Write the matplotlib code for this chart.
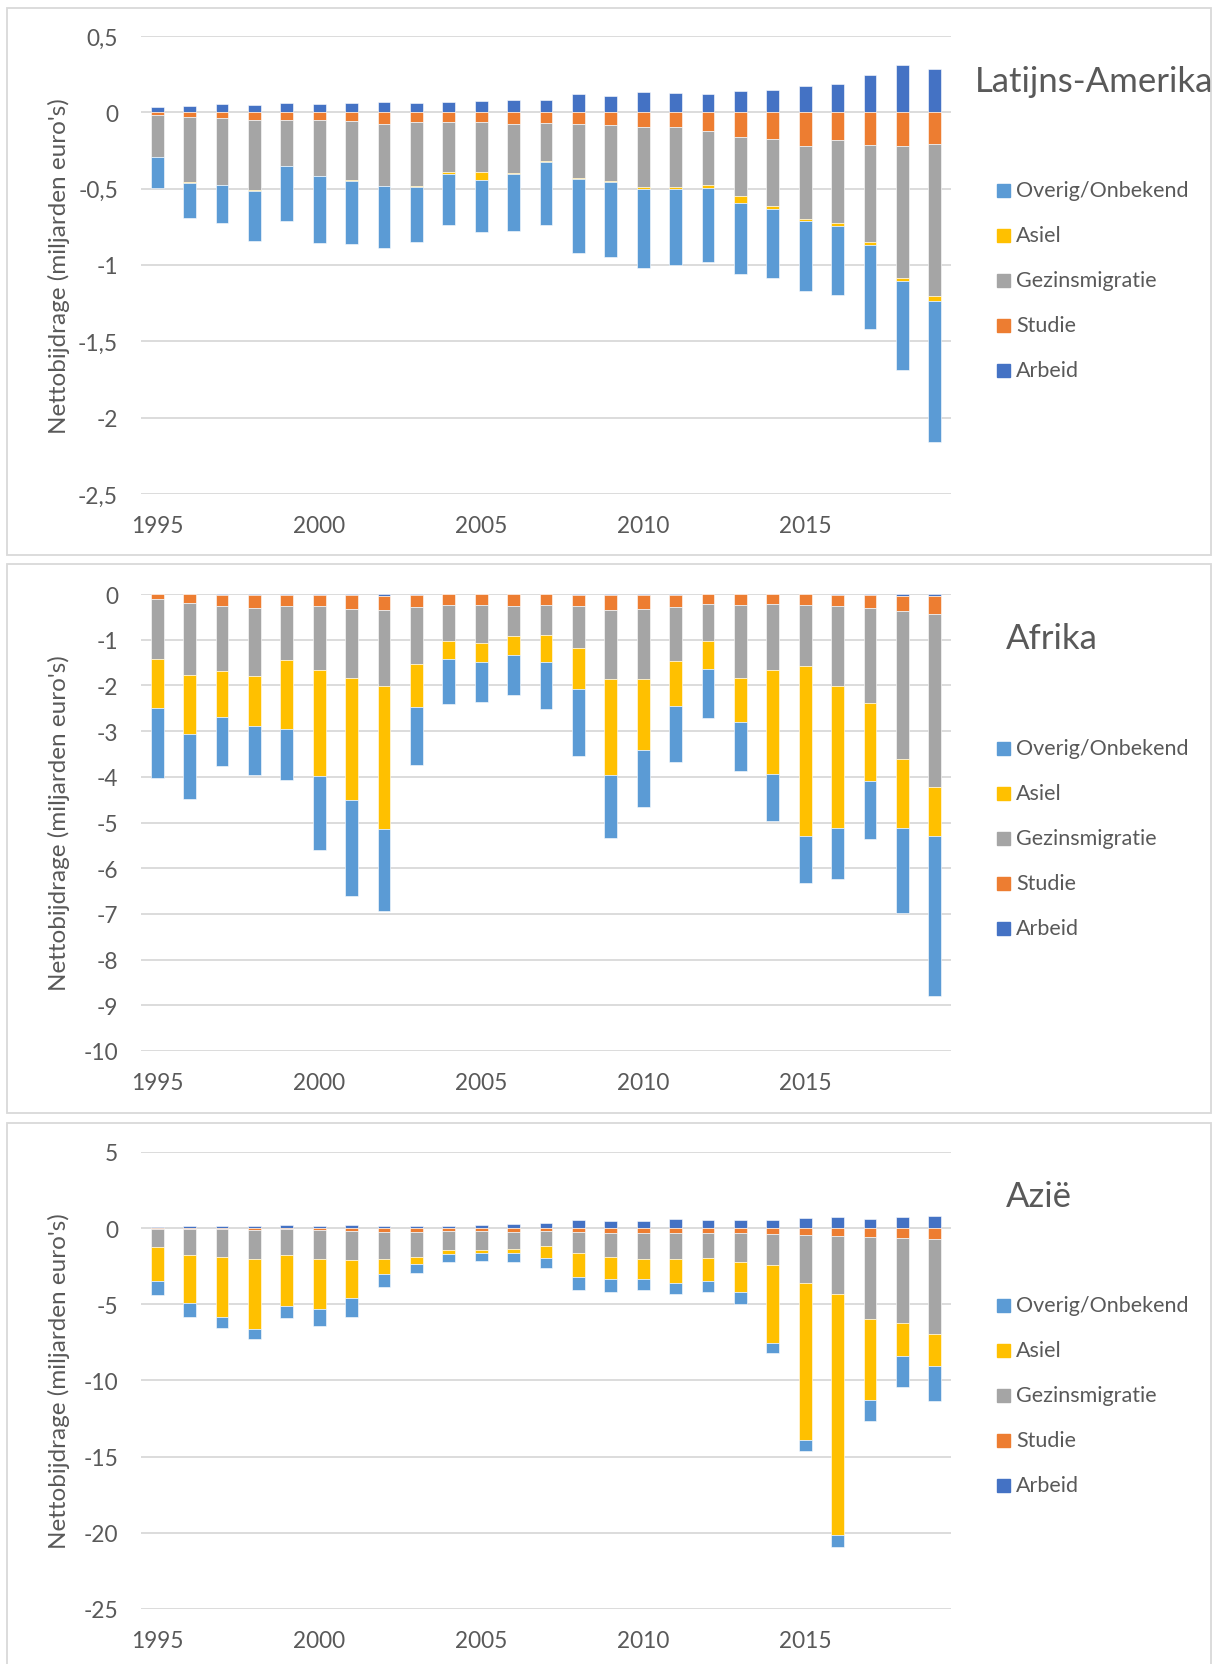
import numpy as np
import matplotlib
matplotlib.use("Agg")
import matplotlib.pyplot as plt
from matplotlib.patches import Rectangle

plt.rcParams['font.family'] = ['Lato', 'DejaVu Sans']

years = [1995, 1996, 1997, 1998, 1999, 2000, 2001, 2002, 2003, 2004, 2005, 2006, 2007,
         2008, 2009, 2010, 2011, 2012, 2013, 2014, 2015, 2016, 2017, 2018, 2019]
year_labels = ['1995', '2000', '2005', '2010', '2015']

series_names = ['Arbeid', 'Studie', 'Gezinsmigratie', 'Asiel', 'Overig/Onbekend']
colors = {'Arbeid': '#4472C4', 'Studie': '#ED7D31', 'Gezinsmigratie': '#A5A5A5',
          'Asiel': '#FFC000', 'Overig/Onbekend': '#5B9BD5'}
legend_order = ['Overig/Onbekend', 'Asiel', 'Gezinsmigratie', 'Studie', 'Arbeid']

# Latijns-Amerika
la_arbeid = [0.033, 0.040, 0.052, 0.049, 0.059, 0.056, 0.063, 0.066, 0.059, 0.068, 0.075, 0.084, 0.084,
             0.119, 0.110, 0.133, 0.126, 0.122, 0.141, 0.145, 0.171, 0.183, 0.244, 0.309, 0.283]
la_studie = [-0.015, -0.028, -0.037, -0.052, -0.052, -0.052, -0.056, -0.077, -0.063, -0.063, -0.063, -0.075, -0.068,
             -0.077, -0.082, -0.094, -0.094, -0.122, -0.162, -0.176, -0.220, -0.183, -0.215, -0.222, -0.208]
la_gezin = [-0.275, -0.429, -0.438, -0.459, -0.299, -0.365, -0.389, -0.405, -0.422, -0.328, -0.330, -0.323, -0.250,
            -0.352, -0.368, -0.395, -0.393, -0.351, -0.386, -0.440, -0.480, -0.543, -0.635, -0.862, -0.996]
la_asiel = [-0.005, -0.004, -0.003, -0.004, -0.002, -0.003, -0.003, -0.003, -0.007, -0.016, -0.050, -0.009, -0.005,
            -0.007, -0.009, -0.010, -0.012, -0.021, -0.045, -0.016, -0.012, -0.016, -0.019, -0.021, -0.033]
la_overig = [-0.200, -0.233, -0.248, -0.330, -0.360, -0.435, -0.414, -0.403, -0.358, -0.328, -0.344, -0.371, -0.415,
             -0.487, -0.487, -0.522, -0.503, -0.487, -0.463, -0.450, -0.459, -0.457, -0.548, -0.586, -0.922]

# Afrika
af_arbeid = [-0.005, -0.005, -0.025, -0.03, -0.015, -0.02, -0.03, -0.04, -0.015, -0.01, -0.01, -0.01, -0.01,
             -0.02, -0.025, -0.02, -0.025, -0.005, -0.01, -0.01, -0.01, -0.02, -0.02, -0.04, -0.04]
af_studie = [-0.105, -0.19, -0.23, -0.275, -0.24, -0.24, -0.30, -0.30, -0.26, -0.23, -0.23, -0.25, -0.23,
             -0.25, -0.33, -0.31, -0.25, -0.21, -0.23, -0.21, -0.23, -0.25, -0.285, -0.33, -0.40]
af_gezin = [-1.31, -1.57, -1.42, -1.49, -1.20, -1.40, -1.51, -1.67, -1.25, -0.79, -0.83, -0.66, -0.65,
            -0.92, -1.51, -1.54, -1.20, -0.81, -1.60, -1.44, -1.33, -1.74, -2.08, -3.25, -3.78]
af_asiel = [-1.07, -1.30, -1.02, -1.10, -1.50, -2.32, -2.66, -3.14, -0.94, -0.40, -0.41, -0.41, -0.59,
            -0.88, -2.10, -1.55, -0.98, -0.62, -0.95, -2.28, -3.73, -3.12, -1.71, -1.50, -1.08]
af_overig = [-1.54, -1.41, -1.06, -1.06, -1.11, -1.63, -2.10, -1.78, -1.27, -0.98, -0.875, -0.88, -1.04,
             -1.47, -1.37, -1.23, -1.23, -1.06, -1.08, -1.02, -1.03, -1.11, -1.27, -1.85, -3.50]

# Azie
az_arbeid = [0.09, 0.11, 0.16, 0.16, 0.18, 0.16, 0.18, 0.16, 0.16, 0.11, 0.18, 0.25, 0.37,
             0.51, 0.44, 0.44, 0.60, 0.51, 0.51, 0.53, 0.65, 0.71, 0.62, 0.71, 0.78]
az_studie = [-0.05, -0.05, -0.06, -0.10, -0.05, -0.10, -0.21, -0.25, -0.25, -0.21, -0.21, -0.23, -0.21,
             -0.23, -0.30, -0.30, -0.30, -0.30, -0.30, -0.37, -0.46, -0.51, -0.55, -0.65, -0.71]
az_gezin = [-1.17, -1.68, -1.83, -1.90, -1.68, -1.95, -1.91, -1.80, -1.62, -1.22, -1.20, -1.11, -0.94,
            -1.38, -1.59, -1.70, -1.73, -1.66, -1.91, -2.07, -3.13, -3.84, -5.39, -5.59, -6.27]
az_asiel = [-2.28, -3.18, -3.96, -4.59, -3.39, -3.27, -2.49, -0.99, -0.48, -0.28, -0.23, -0.32, -0.79,
            -1.57, -1.45, -1.32, -1.56, -1.52, -2.01, -5.07, -10.33, -15.81, -5.33, -2.15, -2.10]
az_overig = [-0.92, -0.92, -0.72, -0.67, -0.78, -1.09, -1.24, -0.85, -0.62, -0.50, -0.53, -0.58, -0.69,
             -0.90, -0.83, -0.76, -0.72, -0.71, -0.73, -0.69, -0.69, -0.78, -1.36, -2.05, -2.26]

la_ticks = [0.5, 0, -0.5, -1, -1.5, -2, -2.5]
la_ticklabels = ['0,5', '0', '-0,5', '-1', '-1,5', '-2', '-2,5']
af_ticks = [0, -1, -2, -3, -4, -5, -6, -7, -8, -9, -10]
af_ticklabels = ['0', '-1', '-2', '-3', '-4', '-5', '-6', '-7', '-8', '-9', '-10']
az_ticks = [5, 0, -5, -10, -15, -20, -25]
az_ticklabels = ['5', '0', '-5', '-10', '-15', '-20', '-25']

W, H = 1217, 1665
TXT = '#595959'
GRID = '#D9D9D9'

fig = plt.figure(figsize=(W / 100, H / 100), dpi=100)


def fx(px):
    return px / W


def fy(px):
    return 1 - px / H


def panel(box_top, box_bot, plot_top, plot_bot, data, ticks, ticklabels, title, title_x, title_y, leg_y):
    # panel frame
    fig.patches.append(Rectangle((fx(7), fy(box_bot)), fx(1211) - fx(7), fy(box_top) - fy(box_bot),
                                 transform=fig.transFigure, fill=False, edgecolor=GRID, lw=1.3))
    ax = fig.add_axes([fx(141), fy(plot_bot), fx(951) - fx(141), fy(plot_top) - fy(plot_bot)])
    x = np.arange(len(years))
    pos_base = np.zeros(len(years))
    neg_base = np.zeros(len(years))
    for name in series_names:
        vals = np.array(data[name])
        bottom = np.where(vals >= 0, pos_base, neg_base)
        ax.bar(x, vals, width=0.4, bottom=bottom, color=colors[name], edgecolor='white', linewidth=0.4, zorder=3)
        pos_base = pos_base + np.clip(vals, 0, None)
        neg_base = neg_base + np.clip(vals, None, 0)
    ax.set_xlim(-0.5, len(years) - 0.5)
    ax.set_ylim(min(ticks), max(ticks))
    ax.set_yticks(ticks)
    ax.set_yticklabels(ticklabels)
    ax.set_xticks([years.index(int(y)) for y in year_labels])
    ax.set_xticklabels(year_labels)
    ax.grid(axis='y', color=GRID, lw=1.3, zorder=0)
    for s in ax.spines.values():
        s.set_visible(False)
    ax.tick_params(length=0, labelsize=16.3, colors=TXT)
    ax.tick_params(axis='y', pad=16.5)
    ax.tick_params(axis='x', pad=15)
    ax.set_ylabel("Nettobijdrage (miljarden euro's)", fontsize=17.5, color=TXT)
    ax.yaxis.set_label_coords(-(141 - 70) / 810, 0.5)
    fig.text(fx(title_x), fy(title_y), title, fontsize=25, color=TXT, ha='left', va='center')
    for i, name in enumerate(legend_order):
        yy = leg_y + i * 45
        fig.patches.append(Rectangle((fx(997), fy(yy + 6.5)), fx(13), 13 / H,
                                     transform=fig.transFigure, color=colors[name]))
        fig.text(fx(1016), fy(yy), name, fontsize=15.5, color=TXT, ha='left', va='center')


panel(9, 556, 37, 495,
      {'Arbeid': la_arbeid, 'Studie': la_studie, 'Gezinsmigratie': la_gezin,
       'Asiel': la_asiel, 'Overig/Onbekend': la_overig},
      la_ticks, la_ticklabels, 'Latijns-Amerika', 975, 82, 191)
panel(565, 1114, 595, 1052,
      {'Arbeid': af_arbeid, 'Studie': af_studie, 'Gezinsmigratie': af_gezin,
       'Asiel': af_asiel, 'Overig/Onbekend': af_overig},
      af_ticks, af_ticklabels, 'Afrika', 1006, 639, 749)
panel(1124, 1672, 1153, 1610,
      {'Arbeid': az_arbeid, 'Studie': az_studie, 'Gezinsmigratie': az_gezin,
       'Asiel': az_asiel, 'Overig/Onbekend': az_overig},
      az_ticks, az_ticklabels, 'Azië', 1006, 1197, 1306)

fig.savefig('out.png', dpi=100)
